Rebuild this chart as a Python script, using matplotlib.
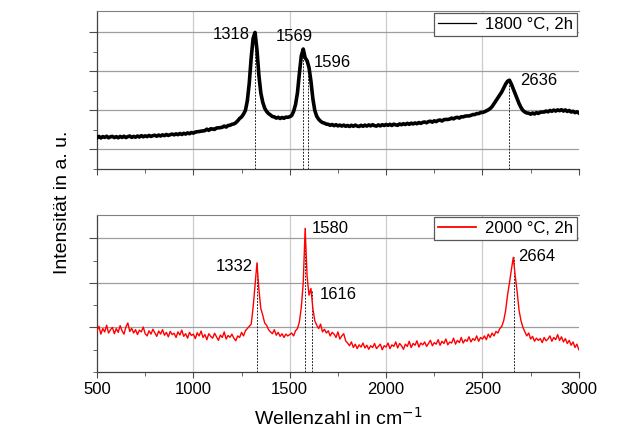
import numpy as np
import matplotlib
matplotlib.use("Agg")
import matplotlib.pyplot as plt
from matplotlib.lines import Line2D

plt.rcParams['font.family'] = ['Liberation Sans', 'DejaVu Sans']

# Raman-Spektren, Stuetzstellen alle 10 cm^-1 (500 ... 3000)
wellenzahl = np.arange(500, 3001, 10)

int_1800 = [
    1.60, 1.67, 1.59, 1.66, 1.62, 1.68, 1.60, 1.65, 1.67, 1.61,   # 500
    1.66, 1.60, 1.67, 1.62, 1.68, 1.61, 1.66, 1.69, 1.62, 1.67,   # 600
    1.63, 1.69, 1.64, 1.71, 1.65, 1.70, 1.66, 1.72, 1.67, 1.71,   # 700
    1.73, 1.68, 1.74, 1.69, 1.75, 1.71, 1.77, 1.72, 1.76, 1.79,   # 800
    1.75, 1.80, 1.76, 1.82, 1.77, 1.83, 1.79, 1.85, 1.81, 1.87,   # 900
    1.84, 1.89, 1.91, 1.92, 1.94, 1.95, 1.97, 2.04, 1.98, 2.06,   # 1000
    2.05, 2.03, 2.10, 2.11, 2.12, 2.14, 2.20, 2.15, 2.23, 2.24,   # 1100
    2.29, 2.31, 2.37, 2.47, 2.59, 2.67, 2.81, 3.00, 3.50, 4.40,   # 1200
    5.70, 6.70, 7.00, 6.10, 4.80, 3.90, 3.42, 3.12, 2.95, 2.84,   # 1300
    2.77, 2.69, 2.67, 2.61, 2.65, 2.59, 2.64, 2.60, 2.66, 2.65,   # 1400
    2.68, 2.74, 2.95, 3.30, 3.90, 4.90, 5.80, 6.15, 5.70, 5.55,   # 1500
    5.20, 4.50, 3.60, 3.00, 2.70, 2.55, 2.45, 2.38, 2.35, 2.30,   # 1600
    2.29, 2.24, 2.28, 2.22, 2.27, 2.21, 2.25, 2.20, 2.25, 2.19,   # 1700
    2.23, 2.18, 2.24, 2.19, 2.25, 2.20, 2.18, 2.24, 2.19, 2.25,   # 1800
    2.20, 2.26, 2.21, 2.27, 2.22, 2.20, 2.26, 2.21, 2.27, 2.23,   # 1900
    2.28, 2.24, 2.29, 2.23, 2.30, 2.26, 2.24, 2.31, 2.27, 2.32,   # 2000
    2.28, 2.34, 2.29, 2.35, 2.31, 2.36, 2.32, 2.38, 2.34, 2.39,   # 2100
    2.41, 2.37, 2.43, 2.45, 2.40, 2.47, 2.43, 2.49, 2.51, 2.46,   # 2200
    2.53, 2.54, 2.54, 2.56, 2.61, 2.57, 2.63, 2.65, 2.61, 2.68,   # 2300
    2.67, 2.71, 2.72, 2.72, 2.75, 2.79, 2.79, 2.84, 2.84, 2.89,   # 2400
    2.90, 2.93, 2.98, 3.03, 3.10, 3.20, 3.35, 3.50, 3.65, 3.80,   # 2500
    3.95, 4.15, 4.35, 4.50, 4.55, 4.35, 4.10, 3.85, 3.60, 3.35,   # 2600
    3.15, 3.00, 2.92, 2.87, 2.86, 2.81, 2.87, 2.82, 2.89, 2.85,   # 2700
    2.91, 2.92, 2.92, 2.97, 2.93, 3.00, 2.96, 3.02, 2.97, 3.03,   # 2800
    2.99, 3.04, 2.97, 3.03, 2.95, 3.00, 2.92, 2.96, 2.89, 2.93,   # 2900
    2.87,
]

int_2000 = [
    1.85, 2.05, 1.70, 1.95, 1.80, 2.10, 1.75, 1.90, 2.00, 1.72,   # 500
    1.95, 1.78, 2.08, 1.85, 1.70, 2.02, 2.20, 1.82, 1.96, 1.75,   # 600
    1.90, 1.68, 1.88, 1.80, 2.02, 1.72, 1.62, 1.85, 1.70, 1.92,   # 700
    1.76, 1.60, 1.84, 1.70, 1.90, 1.65, 1.78, 1.58, 1.82, 1.68,   # 800
    1.74, 1.55, 1.80, 1.66, 1.88, 1.60, 1.72, 1.52, 1.78, 1.64,   # 900
    1.70, 1.50, 1.76, 1.62, 1.84, 1.55, 1.68, 1.45, 1.72, 1.60,   # 1000
    1.52, 1.74, 1.58, 1.42, 1.66, 1.55, 1.80, 1.48, 1.64, 1.56,   # 1100
    1.70, 1.52, 1.40, 1.62, 1.55, 1.78, 1.62, 1.85, 1.95, 2.05,   # 1200
    2.15, 2.90, 3.90, 4.90, 3.70, 2.85, 2.55, 2.20, 2.10, 1.90,   # 1300
    1.80, 1.72, 1.90, 1.65, 1.78, 1.60, 1.72, 1.55, 1.70, 1.62,   # 1400
    1.68, 1.75, 1.62, 1.85, 1.95, 2.25, 2.90, 4.00, 6.45, 4.30,   # 1500
    3.45, 3.75, 2.85, 2.30, 2.10, 1.95, 2.15, 1.80, 1.92, 1.75,   # 1600
    1.85, 1.62, 1.78, 1.70, 1.55, 1.80, 1.48, 1.62, 1.72, 1.40,   # 1700
    1.30, 1.18, 1.35, 1.10, 1.25, 1.05, 1.22, 1.12, 1.30, 1.08,   # 1800
    1.20, 1.02, 1.18, 1.10, 1.28, 1.05, 1.15, 1.25, 1.00, 1.18,   # 1900
    1.12, 1.30, 1.05, 1.22, 1.15, 1.35, 1.08, 1.28, 1.18, 1.02,   # 2000
    1.25, 1.15, 1.38, 1.10, 1.28, 1.20, 1.40, 1.12, 1.30, 1.22,   # 2100
    1.35, 1.15, 1.28, 1.42, 1.18, 1.32, 1.25, 1.45, 1.20, 1.38,   # 2200
    1.28, 1.48, 1.22, 1.35, 1.30, 1.52, 1.25, 1.42, 1.32, 1.55,   # 2300
    1.30, 1.45, 1.38, 1.58, 1.35, 1.50, 1.42, 1.62, 1.38, 1.55,   # 2400
    1.48, 1.62, 1.45, 1.70, 1.55, 1.75, 1.62, 1.82, 1.75, 1.95,   # 2500
    2.05, 2.30, 2.75, 3.45, 4.00, 4.60, 5.15, 4.30, 3.60, 2.75,   # 2600
    2.30, 2.00, 1.80, 1.62, 1.75, 1.48, 1.60, 1.38, 1.52, 1.42,   # 2700
    1.50, 1.32, 1.55, 1.40, 1.48, 1.62, 1.38, 1.55, 1.45, 1.68,   # 2800
    1.42, 1.58, 1.35, 1.50, 1.28, 1.42, 1.20, 1.35, 1.10, 1.25,   # 2900
    1.00,
]

# Peaklagen (cm^-1) und Peakhoehen
peaks_1800 = [1318, 1569, 1596, 2636]
hoehe_1800 = [7.0, 6.15, 5.5, 4.55]
peaks_2000 = [1332, 1580, 1616, 2664]
hoehe_2000 = [4.9, 6.45, 3.7, 5.15]

# Beschriftungsversatz (dx, dy, ha)
versatz_1800 = [(-24, -0.1, 'right'), (-46, 0.62, 'center'),
                (29, -0.05, 'left'), (58, -0.03, 'left')]
versatz_2000 = [(-23, -0.15, 'right'), (35, 0.0, 'left'),
                (41, -0.2, 'left'), (20, 0.05, 'left')]

fig = plt.figure(figsize=(6.34, 4.36), dpi=100)
ax1 = fig.add_axes([0.153, 0.6124, 0.760, 0.3624])
ax2 = fig.add_axes([0.153, 0.1468, 0.760, 0.3601])


def panel(ax, y, farbe, lw, label, peaks, hoehe, versatz, ylim, ymaj, ymin):
    ax.plot(wellenzahl, y, color=farbe, lw=lw, zorder=3)
    ax.vlines(peaks, 0, hoehe, colors='k', linestyles=(0, (2.2, 1.6)),
              lw=0.6, zorder=2)
    for p, h, (dx, dy, ha) in zip(peaks, hoehe, versatz):
        ax.text(p + dx, h + dy, str(p), ha=ha, va='center', fontsize=12)
    ax.set_xlim(500, 3000)
    ax.set_ylim(*ylim)
    ax.set_xticks(np.arange(500, 3001, 500))
    ax.set_xticks(np.arange(750, 3000, 500), minor=True)
    ax.set_yticks(ymaj)
    ax.set_yticks(ymin, minor=True)
    ax.grid(True, axis='y', which='major', color='0.62', lw=0.9)
    ax.grid(True, axis='x', which='major', color='0.8', lw=0.9)
    ax.get_xgridlines()[-1].set_visible(False)
    ax.get_xgridlines()[0].set_visible(False)
    ax.set_axisbelow(True)
    ax.spines['right'].set_visible(False)
    ax.spines['top'].set_color('0.5')
    ax.spines['top'].set_linewidth(0.8)
    for s in ('left', 'bottom'):
        ax.spines[s].set_color('0.25')
        ax.spines[s].set_linewidth(0.9)
    ax.tick_params(axis='x', which='major', length=4, color='0.3')
    ax.tick_params(axis='x', which='minor', length=3, color='0.3')
    ax.tick_params(axis='y', which='major', length=6, color='0.3')
    ax.tick_params(axis='y', which='minor', length=3, color='0.3')
    ax.tick_params(labelleft=False, labelsize=12)
    griff = Line2D([], [], color=farbe, lw=0.9 if farbe == 'k' else 1.3)
    leg = ax.legend([griff], [label], loc='upper right', fontsize=12,
                    fancybox=False, edgecolor='0.35', framealpha=1,
                    borderaxespad=0.12, borderpad=0.25, handlelength=2.3,
                    handletextpad=0.5)
    leg.get_frame().set_linewidth(0.9)


panel(ax1, int_1800, 'k', 2.6, '1800 °C, 2h', peaks_1800, hoehe_1800,
      versatz_1800, (0, 8.1), [1, 3, 5, 7], [0, 2, 4, 6])
panel(ax2, int_2000, '#ff0000', 1.0, '2000 °C, 2h', peaks_2000, hoehe_2000,
      versatz_2000, (0, 7.05), [2, 4, 6], [0, 1, 3, 5])
ax1.tick_params(labelbottom=False)

fig.text(0.533, 0.041, 'Wellenzahl in cm$^{\\mathsf{-1}}$', ha='center',
         va='center', fontsize=14)
fig.text(0.098, 0.537, 'Intensität in a. u.', ha='center', va='center',
         rotation=90, fontsize=14)

fig.savefig('out.png', dpi=100)
